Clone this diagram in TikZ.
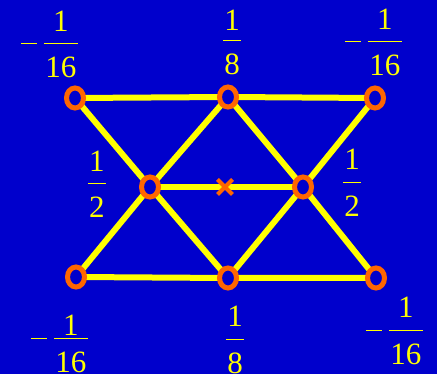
\documentclass[tikz,border=0pt]{standalone}
\usepackage{fontspec}
\setmainfont{Liberation Serif}
\usetikzlibrary{shapes.geometric,shapes.misc,backgrounds}
\definecolor{fundo}{HTML}{0000CC}
\definecolor{linha}{HTML}{FFFF00}
\definecolor{vertice}{HTML}{FF6600}
% fraction: numerator, bar, denominator (#1 = space under numerator)
\newcommand{\pesofr}[3][11pt]{{\renewcommand{\arraystretch}{0}\setlength{\arrayrulewidth}{1.4pt}%
  \begin{tabular}[t]{@{\hspace{1.5pt}}c@{\hspace{1.5pt}}}\rule[-#1]{0pt}{#1}#2\\\hline\rule{0pt}{33pt}#3\end{tabular}}}
\newcommand{\pesoneg}[3][11pt]{\rule[-\dimexpr#1+1.4pt\relax]{16pt}{1.4pt}\hspace{7pt}\pesofr[#1]{#2}{#3}}
\tikzset{
  vert/.style={ellipse, draw=vertice, fill=fundo, line width=5pt, inner sep=0pt,
               minimum width=17pt, minimum height=20pt},
  centro/.style={cross out, draw=vertice, line width=4pt, inner sep=0pt, minimum size=11pt},
  aresta/.style={draw=linha, line width=6pt},
  peso/.style={text=linha, font=\fontsize{31}{36}\selectfont, inner sep=0pt},
}

\begin{document}
\begin{tikzpicture}[x=1pt, y=-1pt]
  \useasboundingbox (0,0) rectangle (437,374);
  % vertices
  \node[vert] (tl) at (75,98) {};
  \node[vert] (tm) at (228,97) {};
  \node[vert] (tr) at (375,98) {};
  \node[vert] (ml) at (150,187) {};
  \node[vert] (mr) at (303,187) {};
  \node[vert] (bl) at (76,277) {};
  \node[vert] (bm) at (228,278) {};
  \node[vert] (br) at (376,278) {};
  \node[centro] (ctr) at (225,187) {};
  % edges
  \begin{scope}[on background layer]
    \fill[fundo] (0,0) rectangle (437,374);
    \draw[aresta] (tl.center) -- (tm.center) -- (tr.center);
    \draw[aresta] (bl.center) -- (bm.center) -- (br.center);
    \draw[aresta] (ml.center) -- (mr.center);
    \draw[aresta] (tl.center) -- (ml.center) -- (bm.center);
    \draw[aresta] (tm.center) -- (ml.center) -- (bl.center);
    \draw[aresta] (tm.center) -- (mr.center) -- (br.center);
    \draw[aresta] (tr.center) -- (mr.center) -- (bm.center);
  \end{scope}
  % weights
  \node[peso, anchor=base east] (wtl) at (78,32) {\pesoneg{1}{16}};
  \node[peso, anchor=base] (wtm) at (232,31) {\pesofr[9pt]{1}{8}};
  \node[peso, anchor=base east] (wtr) at (402,30) {\pesoneg{1}{16}};
  \node[peso, anchor=base] (wml) at (97,172) {\pesofr{1}{2}};
  \node[peso, anchor=base] (wmr) at (352,170) {\pesofr[12pt]{1}{2}};
  \node[peso, anchor=base east] (wbl) at (88,336) {\pesoneg[2pt]{1}{16}};
  \node[peso, anchor=base] (wbm) at (235,327) {\pesofr[12pt]{1}{8}};
  \node[peso, anchor=base east] (wbr) at (423,318) {\pesoneg[12pt]{1}{16}};
\end{tikzpicture}
\end{document}
